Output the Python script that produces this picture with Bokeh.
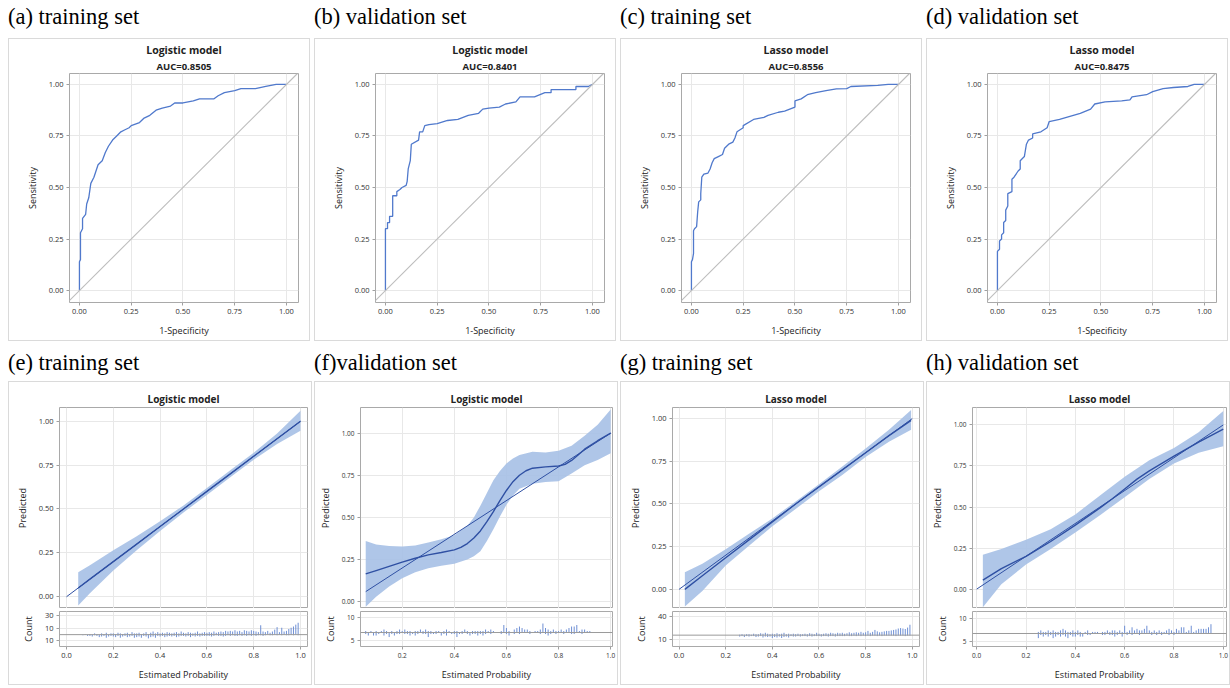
import numpy as np
from bokeh.plotting import figure
from bokeh.layouts import row, column
from bokeh.models import (Div, Title, FixedTicker, Range1d, NumeralTickFormatter,
                          Span, Slope)
from bokeh.embed import file_html
from bokeh.resources import INLINE

# ---------------- text ----------------
roc_labels = ["(a) training set", "(b) validation set", "(c) training set", "(d) validation set"]
cal_labels = ["(e) training set", "(f)validation set", "(g) training set", "(h) validation set"]
roc_models = ["Logistic model", "Logistic model", "Lasso model", "Lasso model"]
roc_aucs = ["AUC=0.8505", "AUC=0.8401", "AUC=0.8556", "AUC=0.8475"]
cal_models = ["Logistic model", "Logistic model", "Lasso model", "Lasso model"]

# ---------------- ROC curves ----------------
fpr_a = [0, 0, 0.005, 0.005, 0.015, 0.015, 0.03, 0.035, 0.045, 0.055, 0.07, 0.08, 0.09, 0.11, 0.125,
         0.14, 0.16, 0.18, 0.2, 0.22, 0.24, 0.25, 0.29, 0.31, 0.34, 0.37, 0.4, 0.44, 0.46, 0.5,
         0.55, 0.58, 0.65, 0.67, 0.7, 0.75, 0.78, 0.85, 0.9, 0.95, 1.0]
tpr_a = [0, 0.14, 0.15, 0.28, 0.30, 0.35, 0.37, 0.42, 0.45, 0.52, 0.55, 0.58, 0.61, 0.63, 0.67,
         0.70, 0.73, 0.75, 0.77, 0.78, 0.79, 0.80, 0.815, 0.835, 0.85, 0.875, 0.885, 0.895, 0.91, 0.91,
         0.92, 0.93, 0.93, 0.945, 0.96, 0.97, 0.98, 0.98, 0.99, 1.0, 1.0]

fpr_b = [0, 0, 0.01, 0.01, 0.02, 0.02, 0.035, 0.035, 0.055, 0.055, 0.07, 0.08, 0.1, 0.105, 0.11,
         0.12, 0.125, 0.16, 0.165, 0.18, 0.19, 0.21, 0.25, 0.3, 0.35, 0.4, 0.45, 0.47, 0.5, 0.55,
         0.58, 0.63, 0.65, 0.72, 0.77, 0.8, 0.8, 0.92, 0.92, 0.98, 1.0]
tpr_b = [0, 0.30, 0.30, 0.33, 0.33, 0.36, 0.36, 0.46, 0.46, 0.48, 0.49, 0.50, 0.51, 0.53, 0.59,
         0.63, 0.71, 0.73, 0.77, 0.77, 0.80, 0.805, 0.81, 0.825, 0.83, 0.85, 0.86, 0.88, 0.885, 0.89,
         0.905, 0.915, 0.94, 0.94, 0.96, 0.96, 0.975, 0.975, 0.99, 0.99, 1.0]

fpr_c = [0, 0, 0.005, 0.01, 0.01, 0.015, 0.025, 0.03, 0.035, 0.045, 0.045, 0.05, 0.06, 0.08, 0.09,
         0.1, 0.11, 0.13, 0.15, 0.16, 0.18, 0.2, 0.21, 0.22, 0.25, 0.25, 0.3, 0.35, 0.37, 0.42,
         0.45, 0.5, 0.5, 0.53, 0.56, 0.6, 0.65, 0.7, 0.75, 0.77, 0.9, 0.95, 1.0]
tpr_c = [0, 0.14, 0.15, 0.18, 0.29, 0.30, 0.31, 0.38, 0.43, 0.44, 0.47, 0.55, 0.565, 0.57, 0.59,
         0.62, 0.64, 0.65, 0.66, 0.69, 0.71, 0.72, 0.74, 0.77, 0.79, 0.80, 0.83, 0.84, 0.85, 0.865,
         0.87, 0.89, 0.92, 0.93, 0.95, 0.96, 0.97, 0.978, 0.98, 0.99, 0.995, 1.0, 1.0]

fpr_d = [0, 0, 0.01, 0.01, 0.02, 0.02, 0.03, 0.03, 0.04, 0.04, 0.05, 0.05, 0.07, 0.07, 0.08,
         0.1, 0.11, 0.11, 0.13, 0.14, 0.15, 0.17, 0.17, 0.21, 0.24, 0.25, 0.3, 0.35, 0.4, 0.45,
         0.47, 0.52, 0.6, 0.64, 0.65, 0.72, 0.75, 0.8, 0.85, 0.92, 0.95, 1.0]
tpr_d = [0, 0.19, 0.20, 0.24, 0.25, 0.27, 0.28, 0.33, 0.34, 0.39, 0.41, 0.47, 0.48, 0.54, 0.55,
         0.58, 0.59, 0.63, 0.65, 0.71, 0.73, 0.74, 0.76, 0.77, 0.79, 0.82, 0.83, 0.845, 0.86, 0.88,
         0.905, 0.915, 0.92, 0.925, 0.94, 0.95, 0.965, 0.98, 0.985, 0.99, 1.0, 1.0]

# ---------------- calibration curves (fit line and confidence band) ----------------
fit_e_x = [0.05, 0.1, 0.2, 0.3, 0.4, 0.5, 0.6, 0.7, 0.8, 0.9, 1.0]
fit_e_y = [0.05, 0.10, 0.20, 0.30, 0.40, 0.50, 0.60, 0.70, 0.80, 0.90, 1.00]
band_e_x = [0.05, 0.1, 0.2, 0.3, 0.4, 0.5, 0.6, 0.7, 0.8, 0.9, 1.0]
band_e_lo = [-0.05, 0.02, 0.15, 0.265, 0.375, 0.48, 0.58, 0.68, 0.78, 0.87, 0.945]
band_e_hi = [0.14, 0.18, 0.265, 0.345, 0.43, 0.52, 0.62, 0.72, 0.82, 0.93, 1.06]
diag_e = [0.0, 1.0]

fit_f_x = [0.06, 0.1, 0.15, 0.2, 0.25, 0.3, 0.35, 0.4, 0.425, 0.45, 0.475, 0.5, 0.525, 0.55,
           0.575, 0.6, 0.625, 0.65, 0.675, 0.7, 0.75, 0.8, 0.825, 0.85, 0.875, 0.9, 0.95, 1.0]
fit_f_y = [0.165, 0.185, 0.21, 0.235, 0.258, 0.278, 0.292, 0.308, 0.322, 0.345, 0.378, 0.42,
           0.475, 0.535, 0.60, 0.66, 0.712, 0.75, 0.777, 0.792, 0.80, 0.805, 0.815, 0.838, 0.87,
           0.905, 0.955, 1.0]
band_f_x = [0.06, 0.1, 0.15, 0.2, 0.25, 0.3, 0.35, 0.4, 0.45, 0.475, 0.5, 0.525, 0.55, 0.575,
            0.6, 0.625, 0.65, 0.7, 0.75, 0.8, 0.85, 0.9, 0.95, 1.0]
band_f_lo = [-0.03, 0.03, 0.09, 0.14, 0.175, 0.198, 0.213, 0.225, 0.25, 0.27, 0.3, 0.36, 0.43,
             0.505, 0.575, 0.63, 0.67, 0.70, 0.71, 0.715, 0.76, 0.81, 0.84, 0.88]
band_f_hi = [0.36, 0.34, 0.33, 0.327, 0.333, 0.352, 0.37, 0.395, 0.45, 0.50, 0.57, 0.645, 0.72,
             0.775, 0.82, 0.85, 0.87, 0.89, 0.885, 0.895, 0.925, 0.985, 1.05, 1.14]
diag_f = [0.06, 1.0]

fit_g_x = [0.025, 0.1, 0.2, 0.3, 0.4, 0.5, 0.6, 0.7, 0.8, 0.9, 0.995]
fit_g_y = [0.0, 0.08, 0.185, 0.29, 0.395, 0.5, 0.6, 0.7, 0.8, 0.9, 0.99]
band_g_x = [0.025, 0.1, 0.2, 0.3, 0.4, 0.5, 0.6, 0.7, 0.8, 0.9, 0.995]
band_g_lo = [-0.10, -0.01, 0.14, 0.255, 0.37, 0.47, 0.575, 0.67, 0.775, 0.865, 0.935]
band_g_hi = [0.10, 0.15, 0.235, 0.325, 0.415, 0.515, 0.615, 0.72, 0.825, 0.935, 1.05]
diag_g = [0.0, 1.0]

fit_h_x = [0.025, 0.1, 0.2, 0.3, 0.4, 0.5, 0.55, 0.6, 0.65, 0.7, 0.8, 0.9, 1.0]
fit_h_y = [0.055, 0.125, 0.20, 0.29, 0.39, 0.495, 0.55, 0.61, 0.67, 0.72, 0.81, 0.895, 0.975]
band_h_x = [0.025, 0.1, 0.2, 0.3, 0.4, 0.5, 0.6, 0.7, 0.8, 0.9, 1.0]
band_h_lo = [-0.11, 0.03, 0.15, 0.245, 0.345, 0.45, 0.56, 0.67, 0.765, 0.83, 0.87]
band_h_hi = [0.21, 0.245, 0.30, 0.365, 0.455, 0.57, 0.685, 0.785, 0.86, 0.955, 1.085]
diag_h = [0.0, 1.0]

# ---------------- count histograms (0.01 wide bins; up = events, down = non-events) ----------------
hist_e_start = 0.07
hist_e_up = [0, 1, 0,
             1, 0, 2, 1, 0, 2, 1, 3, 0, 2,
             2, 1, 3, 2, 1, 2, 3, 1, 4, 2,
             2, 3, 1, 2, 4, 1, 3, 5, 2, 4,
             2, 3, 2, 4, 3, 2, 3, 4, 2, 5,
             3, 2, 4, 3, 2, 3, 5, 2, 3, 4,
             3, 4, 3, 5, 3, 4, 5, 4, 6, 5,
             6, 5, 7, 5, 6, 4, 7, 6, 5, 7,
             6, 5, 4, 15, 5, 4, 6, 3, 5, 8,
             12, 4, 11, 5, 6, 9, 11, 13, 16, 19]
hist_e_down = [1, 0, 2,
               2, 3, 1, 2, 4, 3, 2, 5, 3, 2,
               3, 4, 2, 5, 3, 2, 4, 3, 2, 5,
               4, 3, 5, 2, 3, 6, 4, 3, 5, 2,
               3, 2, 4, 3, 2, 3, 2, 4, 3, 2,
               2, 3, 2, 4, 2, 3, 2, 3, 2, 2,
               2, 2, 3, 2, 1, 2, 2, 3, 2, 1,
               2, 1, 2, 2, 1, 2, 1, 2, 1, 2,
               1, 2, 1, 1, 2, 1, 0, 1, 1, 0,
               1, 0, 1, 0, 1, 1, 0, 1, 0, 1]

hist_f_start = 0.06
hist_f_up = [1, 0, 1, 0,
             1, 0, 1, 2, 1, 0, 1, 0, 1, 2,
             1, 2, 1, 1, 0, 1, 1, 2, 1, 2,
             1, 1, 0, 1, 1, 0, 1, 2, 1, 0,
             1, 1, 0, 1, 2, 1, 0, 1, 1, 1,
             1, 1, 2, 1, 2, 1, 0, 0, 1, 5,
             3, 1, 0, 2, 3, 4, 3, 2, 2, 1,
             0, 1, 1, 2, 6, 3, 2, 1, 2, 1,
             1, 2, 1, 2, 3, 4, 4, 5, 1, 2,
             2, 1, 1]
hist_f_down = [1, 2, 0, 2,
               2, 1, 0, 2, 1, 3, 1, 2, 1, 1,
               0, 1, 1, 2, 1, 2, 1, 0, 1, 1,
               3, 1, 1, 1, 0, 2, 1, 2, 0, 1,
               1, 3, 1, 1, 0, 1, 2, 1, 1, 2,
               1, 2, 1, 0, 1, 0, 0, 0, 1, 0,
               1, 2, 0, 1, 0, 1, 0, 0, 0, 1,
               0, 0, 0, 1, 0, 1, 2, 1, 0, 1,
               0, 0, 1, 0, 0, 1, 1, 0, 0, 1,
               0, 0, 0]

hist_g_start = 0.26
hist_g_up = [1, 2, 1, 2,
             2, 1, 3, 2, 2, 4, 3, 5, 3, 2,
             3, 2, 4, 2, 3, 5, 2, 3, 2, 3,
             2, 3, 2, 2, 3, 2, 4, 3, 2, 5,
             3, 2, 3, 4, 3, 5, 4, 3, 5, 4,
             5, 3, 4, 6, 4, 5, 6, 5, 7, 5,
             6, 9, 5, 7, 11, 8, 6, 7, 8, 9,
             9, 10, 11, 12, 14, 15, 14, 13, 16, 22]
hist_g_down = [3, 2, 4, 2,
               3, 2, 2, 4, 3, 2, 5, 3, 4, 3,
               6, 4, 5, 3, 6, 4, 3, 5, 2, 3,
               3, 2, 3, 2, 2, 3, 2, 3, 2, 2,
               2, 3, 2, 2, 3, 2, 2, 3, 2, 2,
               2, 2, 1, 2, 2, 1, 2, 1, 2, 1,
               2, 1, 2, 1, 1, 2, 1, 2, 1, 1,
               1, 1, 1, 2, 1, 1, 1, 2, 1, 1]

hist_h_start = 0.25
hist_h_up = [1, 2, 1, 1, 2,
             1, 2, 1, 1, 2, 3, 2, 1, 1, 2,
             1, 2, 1, 0, 1, 2, 0, 1, 1, 1,
             0, 1, 1, 2, 1, 2, 2, 1, 2, 1,
             5, 1, 2, 4, 2, 3, 2, 2, 3, 5,
             2, 1, 2, 1, 2, 1, 1, 2, 3, 2,
             1, 3, 2, 4, 4, 1, 2, 5, 1, 2,
             3, 3, 3, 3, 4, 6]
hist_h_down = [3, 1, 2, 1, 2,
               1, 3, 2, 1, 2, 1, 2, 3, 1, 2,
               2, 1, 2, 2, 0, 1, 1, 0, 0, 0,
               0, 1, 1, 0, 1, 1, 2, 1, 0, 2,
               0, 1, 0, 1, 0, 0, 1, 0, 0, 0,
               0, 1, 0, 1, 0, 1, 0, 0, 1, 0,
               1, 0, 0, 0, 0, 0, 0, 0, 0, 0,
               0, 0, 0, 0, 0, 0]

# ---------------- styling ----------------
FONT = "Open Sans"
SERIF = "Liberation Serif"
BORDER = "1px solid #dadada"
ROC_BLUE = "#5079cc"
FIT_BLUE = "#2f50a3"
BAND = "#a6c0e5"
BAR_BLUE = "#6e8fd4"
GRID = "#e8e8e8"
FRAME = "#a9a9a9"


def style(p, tick_fs="7.5px"):
    p.background_fill_color = "white"
    p.border_fill_color = "white"
    p.outline_line_color = FRAME
    p.outline_line_width = 1
    for ax in p.axis:
        ax.major_label_text_font = FONT
        ax.major_label_text_font_size = tick_fs
        ax.major_label_text_color = "#333333"
        ax.axis_label_text_font = FONT
        ax.axis_label_text_font_size = "9px"
        ax.axis_label_text_font_style = "normal"
        ax.axis_label_text_color = "#222222"
        ax.axis_label_standoff = 7
        ax.axis_line_color = None
        ax.major_tick_line_color = "#a0a0a0"
        ax.major_tick_out = 3
        ax.major_tick_in = 0
        ax.minor_tick_line_color = None
        ax.major_label_standoff = 3
    for g in p.grid:
        g.grid_line_color = GRID
        g.grid_line_width = 1


def title(text, size, standoff):
    return Title(text=text, align="center", text_font=FONT, text_font_size=size,
                 text_font_style="bold", text_color="#222222", standoff=standoff)


def label_div(text, pad, h):
    html = (f'<div style="font-family:\'{SERIF}\';font-size:22.5px;line-height:24px;'
            f'color:#000;white-space:nowrap;padding-top:{pad}px">{text}</div>')
    return Div(text=html, width=304, height=h, margin=0)


def make_roc(model, auc, fpr, tpr):
    p = figure(width=302, height=303, x_range=Range1d(-0.048, 1.058),
               y_range=Range1d(-0.058, 1.053), title=None, toolbar_location=None,
               output_backend="svg", min_border_left=60, min_border_right=13,
               min_border_top=34, min_border_bottom=40, styles={"border": BORDER})
    tk = [0, 0.25, 0.5, 0.75, 1.0]
    p.xaxis.ticker = FixedTicker(ticks=tk)
    p.yaxis.ticker = FixedTicker(ticks=tk)
    p.xaxis.formatter = NumeralTickFormatter(format="0.00")
    p.yaxis.formatter = NumeralTickFormatter(format="0.00")
    p.xaxis.axis_label = "1-Specificity"
    p.yaxis.axis_label = "Sensitivity"
    p.add_layout(title(auc, "9.5px", 1), "above")
    p.add_layout(title(model, "10.5px", 1), "above")
    p.add_layout(Slope(gradient=1, y_intercept=0, line_color="#bdbdbd", line_width=1.1))
    p.line(fpr, tpr, line_color=ROC_BLUE, line_width=1.3)
    style(p)
    return p


def make_cal(model, xr, yr, cyr, cticks, cover, left, right, fx, fy, bx, blo, bhi, diag,
             hstart, up, down, xticks, tfs):
    top = figure(width=302, height=226, x_range=Range1d(*xr), y_range=Range1d(*yr),
                 title=None, x_axis_location=None, toolbar_location=None,
                 output_backend="svg", min_border_left=left, min_border_right=right,
                 min_border_top=25, min_border_bottom=0)
    top.add_layout(title(model, "10px", 4), "above")
    top.yaxis.ticker = FixedTicker(ticks=[0, 0.25, 0.5, 0.75, 1.0])
    top.yaxis.formatter = NumeralTickFormatter(format="0.00")
    top.yaxis.axis_label = "Predicted"
    top.xgrid.ticker = FixedTicker(ticks=xticks)
    top.varea(x=bx, y1=blo, y2=bhi, fill_color=BAND, fill_alpha=0.9)
    top.line(diag, diag, line_color=FIT_BLUE, line_width=1)
    top.line(fx, fy, line_color=FIT_BLUE, line_width=1.4)
    style(top, tfs)

    bot = figure(width=302, height=76, x_range=top.x_range, y_range=Range1d(*cyr),
                 title=None, toolbar_location=None, output_backend="svg",
                 min_border_left=left, min_border_right=right, min_border_top=3,
                 min_border_bottom=38)
    bot.xaxis.ticker = FixedTicker(ticks=xticks)
    bot.xaxis.formatter = NumeralTickFormatter(format="0.0")
    bot.xaxis.axis_label = "Estimated Probability"
    bot.yaxis.ticker = FixedTicker(ticks=cticks)
    bot.yaxis.major_label_overrides = cover
    bot.yaxis.axis_label = "Count"
    n = len(up)
    hx = np.round(hstart + 0.01 * np.arange(n), 3)
    zeros = np.zeros(n)
    bot.segment(x0=hx, y0=zeros, x1=hx, y1=np.array(up), line_color=BAR_BLUE, line_width=1)
    bot.segment(x0=hx, y0=zeros, x1=hx, y1=-np.array(down), line_color=BAR_BLUE, line_width=1)
    bot.add_layout(Span(location=0, dimension="width", line_color="#9a9a9a", line_width=1))
    style(bot, tfs)
    return column(top, bot, styles={"border": BORDER}, spacing=0)


ticks_full = [0.0, 0.2, 0.4, 0.6, 0.8, 1.0]

roc_figs = [
    make_roc(roc_models[0], roc_aucs[0], fpr_a, tpr_a),
    make_roc(roc_models[1], roc_aucs[1], fpr_b, tpr_b),
    make_roc(roc_models[2], roc_aucs[2], fpr_c, tpr_c),
    make_roc(roc_models[3], roc_aucs[3], fpr_d, tpr_d),
]

cal_figs = [
    make_cal(cal_models[0], (-0.03, 1.03), (-0.067, 1.078), (-19, 37), [30, 10, -10],
             {-10: "10"}, 50, 4, fit_e_x, fit_e_y, band_e_x, band_e_lo, band_e_hi, diag_e,
             hist_e_start, hist_e_up, hist_e_down, ticks_full, "7.5px"),
    make_cal(cal_models[1], (0.04, 1.007), (-0.04, 1.152), (-9.3, 14), [10, -5],
             {-5: "5"}, 38, 5, fit_f_x, fit_f_y, band_f_x, band_f_lo, band_f_hi, diag_f,
             hist_f_start, hist_f_up, hist_f_down, [0.2, 0.4, 0.6, 0.8, 1.0], "6.5px"),
    make_cal(cal_models[2], (-0.028, 1.031), (-0.112, 1.065), (-24, 50), [40, -10],
             {-10: "10"}, 51, 4, fit_g_x, fit_g_y, band_g_x, band_g_lo, band_g_hi, diag_g,
             hist_g_start, hist_g_up, hist_g_down, ticks_full, "7.5px"),
    make_cal(cal_models[3], (-0.017, 1.013), (-0.118, 1.106), (-8.4, 14.2), [10, -5],
             {-5: "5"}, 39, 3, fit_h_x, fit_h_y, band_h_x, band_h_lo, band_h_hi, diag_h,
             hist_h_start, hist_h_up, hist_h_down, ticks_full, "6.5px"),
]

row1 = row(*[column(label_div(t, 5, 38), f, spacing=0) for t, f in zip(roc_labels, roc_figs)],
           spacing=2)
row2 = row(*[column(label_div(t, 10, 40), f, spacing=0) for t, f in zip(cal_labels, cal_figs)],
           spacing=2)
layout = column(row1, row2, spacing=0, margin=(0, 0, 0, 8))

open("out.html", "w").write(file_html(layout, INLINE))
